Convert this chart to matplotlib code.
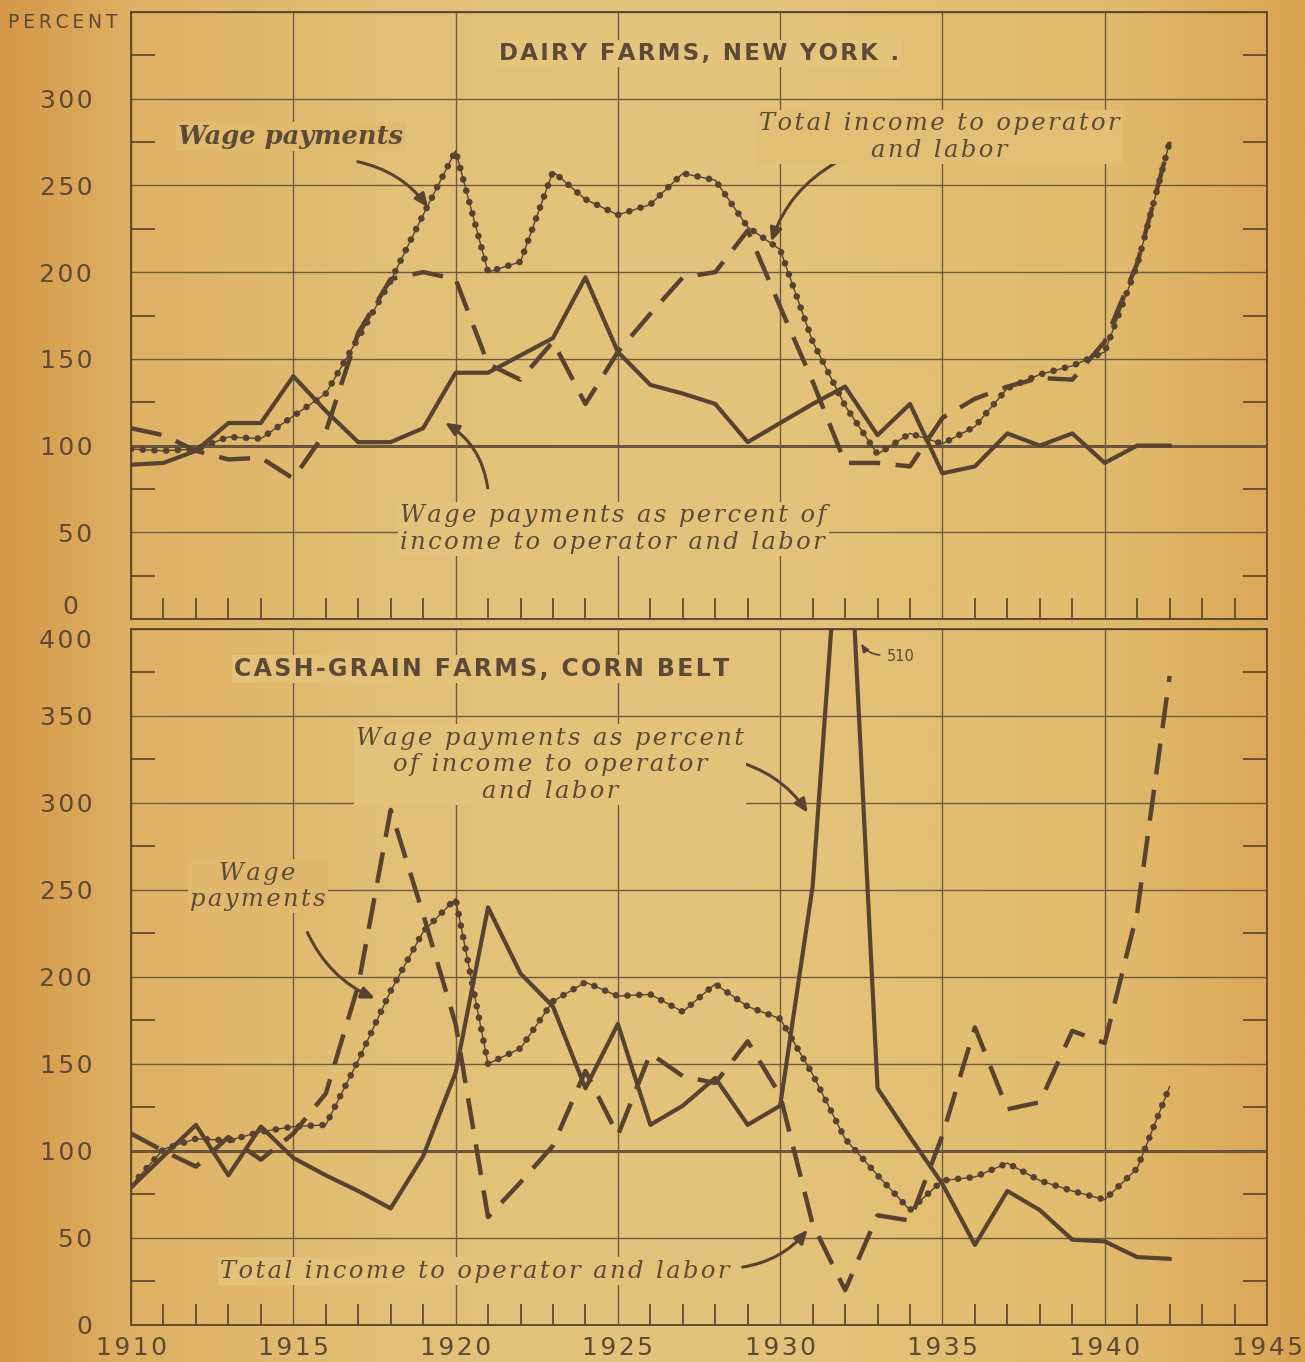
import numpy as np
import matplotlib
matplotlib.use("Agg")
import matplotlib.pyplot as plt
from matplotlib.colors import LinearSegmentedColormap
from matplotlib.transforms import ScaledTranslation

years = list(range(1910, 1943))

# Dairy farms, New York (1910-14 = 100)
ny_wage_pct = [89, 90, 97, 113, 113, 140, 120, 102, 102, 110, 142, 142, 152, 162, 197, 154,
               135, 130, 124, 102, 113, 124, 134, 106, 124, 84, 88, 107, 100, 107, 90, 100, 100]
ny_income = [110, 106, 97, 92, 93, 81, 108, 165, 196, 200, 196, 147, 138, 160, 124, 154,
             176, 197, 200, 224, 180, 137, 90, 90, 88, 116, 127, 134, 139, 138, 160, 205, 275]
ny_wages = [98, 97, 98, 105, 104, 117, 130, 162, 195, 233, 270, 200, 206, 258, 242, 233,
            239, 257, 253, 226, 213, 160, 123, 95, 107, 101, 111, 133, 141, 146, 154, 204, 275]

# Cash-grain farms, Corn Belt
cb_wage_pct = [79, 97, 115, 86, 114, 96, 86, 77, 67, 97, 145, 240, 202, 183, 136, 173,
               115, 126, 142, 115, 126, 252, 510, 136, 108, 81, 46, 77, 66, 49, 48, 39, 38]
cb_income = [110, 100, 91, 108, 95, 110, 133, 195, 296, 236, 173, 62, 82, 103, 146, 109,
             156, 143, 139, 163, 132, 58, 20, 63, 60, 109, 171, 124, 128, 169, 162, 237, 373]
cb_wages = [80, 101, 107, 106, 111, 114, 115, 152, 192, 226, 245, 150, 159, 186, 197, 189,
            190, 180, 196, 183, 176, 144, 107, 86, 66, 83, 85, 93, 83, 77, 72, 90, 137]

INK = "#574330"
TXT = "#5c4a36"
GRID = "#6f5b3f"
HS = "\u200a"


def spaced(s, n=1):
    return (HS * n).join(s)


fig = plt.figure(figsize=(13.05, 13.62), dpi=100)

# paper tone, darker towards the edges
paper = LinearSegmentedColormap.from_list(
    "paper", [(0.0, "#d69848"), (0.1, "#deb164"), (0.3, "#e2c077"), (0.55, "#e4c47d"),
              (0.85, "#e1bb6d"), (1.0, "#d9a453")])
bg = fig.add_axes([0, 0, 1, 1], zorder=-10)
bg.imshow(np.linspace(0, 1, 512)[None, :], aspect="auto", cmap=paper, extent=[0, 1, 0, 1],
          interpolation="bilinear")
bg.axis("off")

X0, W = 0.1004, 0.8705
ax1 = fig.add_axes([X0, 0.5455, W, 0.4457])
ax2 = fig.add_axes([X0, 0.0272, W, 0.5110])


def box_at(x):
    # text box filled with the paper tone under it
    return dict(facecolor=paper(X0 + (x - 1910) / 35 * W), edgecolor="none", pad=1.5)


def setup(ax, ymax, top_label):
    ax.set_facecolor("none")
    ax.set_xlim(1910, 1945)
    ax.set_ylim(0, ymax)
    for s in ax.spines.values():
        s.set_color(INK)
        s.set_linewidth(1.3)
    ax.set_xticks(range(1910, 1946, 5))
    ax.set_xticklabels([spaced(str(v)) for v in range(1910, 1946, 5)])
    ax.set_xticks(range(1910, 1946), minor=True)
    ax.set_yticks(range(0, ymax + 1, 50))
    ax.set_yticklabels([spaced(str(v)) if v <= top_label else ""
                        for v in range(0, ymax + 1, 50)])
    ax.set_yticks(range(25, ymax, 50), minor=True)
    ax.grid(True, which="major", color=GRID, lw=1.0)
    ax.axhline(100, color=INK, lw=2.0, zorder=1.5)
    ax.tick_params(which="both", direction="in", colors=INK, labelcolor=TXT)
    ax.tick_params(axis="y", which="major", length=0, labelsize=18, pad=28)
    ax.tick_params(axis="y", which="minor", length=17, width=1.2, left=True, right=True)
    ax.tick_params(axis="x", which="minor", length=15, width=1.2)
    ax.tick_params(axis="x", which="major", length=0, labelsize=18, pad=8)


def draw(ax, pct, income, wages):
    ax.plot(years, pct, color=INK, lw=3.0, zorder=4)
    ax.plot(years, income, color=INK, lw=3.2, ls=(0, (7, 3.5)), zorder=4)
    ax.plot(years, wages, color=INK, lw=1.0, zorder=4)
    ax.plot(years, wages, color=INK, lw=4.8, ls=(0, (0.01, 1.75)),
            dash_capstyle="round", zorder=4)


def arrow(ax, tail, head, rad):
    ax.annotate("", xy=head, xytext=tail,
                arrowprops=dict(arrowstyle="-|>,head_length=0.8,head_width=0.35",
                                connectionstyle=f"arc3,rad={rad}", color=INK, lw=2.2))


def label(ax, x, y, lines, ha="center", cx=None, **kw):
    txt = "\n".join(spaced(s) for s in lines)
    ax.text(x, y, txt, ha=ha, va="center", multialignment=ha, linespacing=1.2,
            family="DejaVu Serif", style="italic", color=TXT, fontsize=17.5,
            zorder=5, bbox=box_at(cx if cx is not None else x), **kw)


setup(ax1, 350, 300)
setup(ax2, 400, 400)
ax1.tick_params(axis="x", labelbottom=False)
zero = ax1.get_yticklabels()[0]
zero.set_va("bottom")
zero.set_transform(zero.get_transform() + ScaledTranslation(-0.14, 0, fig.dpi_scale_trans))
ax2.get_yticklabels()[-1].set_va("top")
draw(ax1, ny_wage_pct, ny_income, ny_wages)
draw(ax2, cb_wage_pct, cb_income, cb_wages)

# top panel text
fig.text(0.006, 0.9838, spaced("PERCENT", 2), fontsize=13.5, color=TXT, va="center", ha="left")
ax1.text(1927.5, 326, spaced("DAIRY FARMS, NEW YORK ."), ha="center", va="center",
         fontsize=16.5, fontweight="bold", color=TXT, bbox=box_at(1927.5))
ax1.text(1914.9, 278, "Wage payments", ha="center", va="center", fontsize=18.5,
         family="DejaVu Serif", style="italic", fontweight="bold", color=TXT,
         bbox=box_at(1914.9))
arrow(ax1, (1916.9, 264), (1919.2, 236), -0.2)
label(ax1, 1934.9, 278, ["Total income to operator", "and labor"])
arrow(ax1, (1931.8, 264), (1929.7, 216), 0.2)
label(ax1, 1918.3, 52, ["Wage payments as percent of", "income to operator and labor"],
      ha="left", cx=1925.0)
arrow(ax1, (1921.0, 74), (1919.6, 114), 0.25)

# bottom panel text
ax2.text(1920.8, 377, spaced("CASH-GRAIN FARMS, CORN BELT"), ha="center", va="center",
         fontsize=17, fontweight="bold", color=TXT, bbox=box_at(1920.8))
label(ax2, 1922.9, 322, ["Wage payments as percent", "of income to operator", "and labor"])
arrow(ax2, (1928.45, 325), (1930.9, 293), -0.2)
label(ax2, 1913.9, 252, ["Wage", "payments"])
arrow(ax2, (1915.4, 227), (1917.6, 187), 0.2)
label(ax2, 1920.6, 31, ["Total income to operator and labor"])
arrow(ax2, (1928.76, 33), (1930.9, 56), 0.2)
ax2.text(1933.3, 384, "510", ha="left", va="center", fontsize=10.5, color=TXT)
ax2.annotate("", xy=(1932.45, 393), xytext=(1933.15, 385),
             arrowprops=dict(arrowstyle="-|>,head_length=0.5,head_width=0.2",
                             connectionstyle="arc3,rad=-0.3", color=INK, lw=1.2))

fig.savefig("out.png", dpi=100)
